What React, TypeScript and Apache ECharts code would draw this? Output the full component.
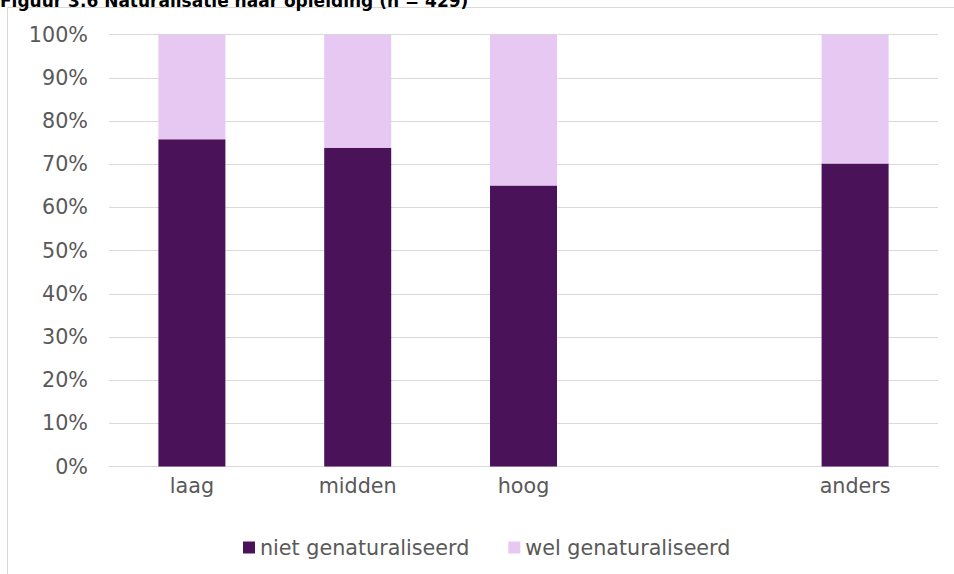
import React, { useEffect, useRef } from "react";
import * as echarts from "echarts";

const categories = ["laag", "midden", "hoog", "", "anders"];
const nietGenaturaliseerd = [75.8, 73.8, 65.1, null, 70.2];
const welGenaturaliseerd = [24.2, 26.2, 34.9, null, 29.8];
const seriesNames = ["niet genaturaliseerd", "wel genaturaliseerd"];
const title = "Figuur 3.6 Naturalisatie naar opleiding (n = 429)";

const FONT = "DejaVu Sans, Verdana, sans-serif";
const FS = 20.7;

export default function App() {
  const ref = useRef<HTMLDivElement>(null);
  useEffect(() => {
    if (!ref.current) return;
    const chart = echarts.init(ref.current, null, { renderer: "svg" });
    chart.setOption({
      animation: false,
      textStyle: { fontFamily: FONT },
      grid: { left: 109, right: 16, top: 34.7, bottom: 107.5, containLabel: false },
      graphic: [
        {
          type: "rect",
          shape: { x: 7.5, y: 7.5, width: 1200, height: 1200 },
          style: { fill: "none", stroke: "#d9d9d9", lineWidth: 1 },
          z: -1,
        },
        {
          type: "text",
          x: 0,
          y: 9,
          style: {
            text: title,
            fontFamily: FONT,
            fontWeight: "bold",
            fontSize: 17,
            fill: "#000",
            verticalAlign: "bottom",
            align: "left",
          },
        },
      ],
      legend: {
        left: 243,
        top: 537,
        padding: 0,
        itemWidth: 12,
        itemHeight: 12,
        itemGap: 39,
        icon: "rect",
        textStyle: { fontFamily: FONT, fontSize: FS, color: "#595959" },
        data: seriesNames,
      },
      xAxis: {
        type: "category",
        data: categories,
        axisLine: { show: true, lineStyle: { color: "#d9d9d9", width: 1 } },
        axisTick: { show: false },
        axisLabel: { fontFamily: FONT, fontSize: FS, color: "#595959", margin: 9 },
      },
      yAxis: {
        type: "value",
        min: 0,
        max: 100,
        interval: 10,
        axisLine: { show: false },
        axisTick: { show: false },
        splitLine: { lineStyle: { color: "#d9d9d9", width: 1 } },
        axisLabel: {
          fontFamily: FONT,
          fontSize: FS,
          color: "#595959",
          margin: 21,
          formatter: "{value}%",
        },
      },
      series: [
        {
          name: seriesNames[0],
          type: "bar",
          stack: "total",
          barWidth: 67,
          data: nietGenaturaliseerd,
          itemStyle: { color: "#4a1259" },
        },
        {
          name: seriesNames[1],
          type: "bar",
          stack: "total",
          barWidth: 67,
          data: welGenaturaliseerd,
          itemStyle: { color: "#e6c8f2" },
        },
      ],
    });
    return () => chart.dispose();
  }, []);
  return (
    <div
      ref={ref}
      style={{ position: "absolute", left: 0, top: 0, width: 954, height: 574 }}
    />
  );
}
